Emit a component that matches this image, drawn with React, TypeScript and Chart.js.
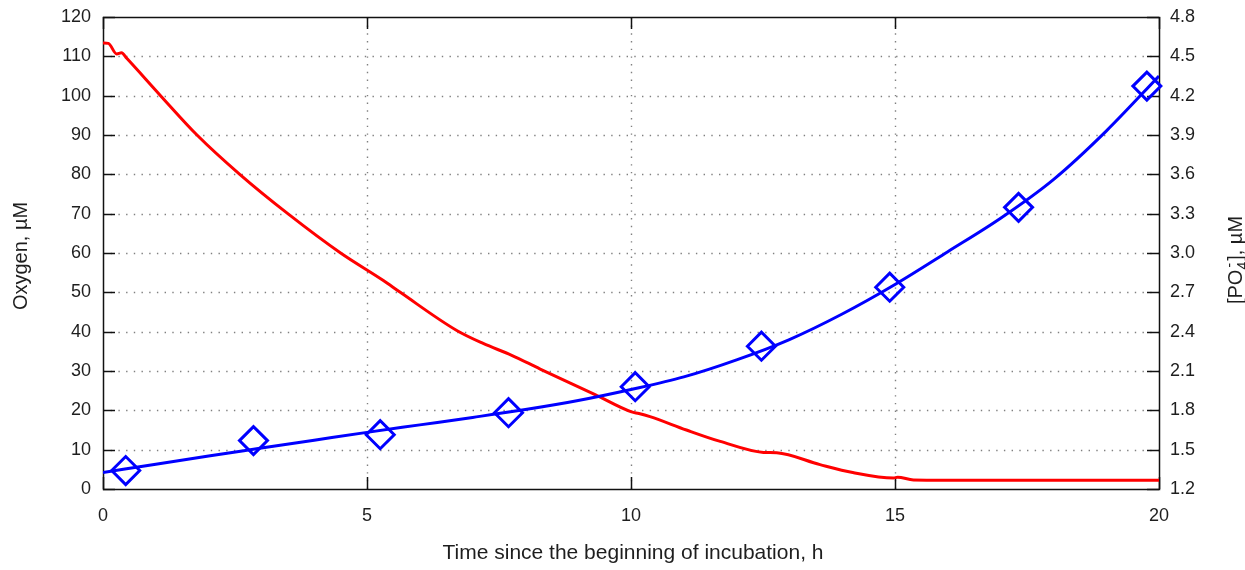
import React, { useEffect, useRef } from 'react';
import { Chart, registerables } from 'chart.js';

Chart.register(...registerables);

// Oxygen (left axis, µM) – measured trace
const oxygenTime = [0, 0.1, 0.26, 0.35, 0.45, 1.09, 1.78, 2.59, 3.5, 4.5, 5.31, 5.63, 6.7, 7.2, 7.74, 8.28, 9.32, 10.01, 10.15, 10.36, 11.05, 11.69, 12.51, 12.76, 13.58, 14.2, 14.97, 15.05, 15.35, 16, 18, 20];
const oxygenValues = [113.4, 113.3, 110.6, 110.9, 109.5, 100, 90, 80, 70, 60, 53, 50, 40.3, 37, 34, 30.5, 24, 19.6, 19.2, 18.4, 15.0, 12.1, 9.3, 9.2, 6.2, 4.2, 2.8, 3.0, 2.3, 2.25, 2.2, 2.2];

// PO4 fitted curve (right axis, µM)
const fitTime = [0, 1, 2, 3, 4, 5, 6, 7, 8, 9, 10, 11, 12, 13, 14, 15, 16, 17, 18, 19, 20];
const fitValues = [1.326, 1.389, 1.452, 1.512, 1.572, 1.632, 1.689, 1.746, 1.806, 1.875, 1.959, 2.055, 2.185, 2.34, 2.535, 2.76, 3.01, 3.265, 3.56, 3.93, 4.35];

// PO4 measured points (right axis, µM)
const po4Time = [0.43, 2.85, 5.25, 7.68, 10.08, 12.47, 14.9, 17.34, 19.77];
const po4Values = [1.341, 1.569, 1.614, 1.782, 1.98, 2.289, 2.739, 3.348, 4.273];

// Tick values
const xTickValues = [0, 5, 10, 15, 20];
const yTickValues = [0, 10, 20, 30, 40, 50, 60, 70, 80, 90, 100, 110, 120];
const y2TickValues = [1.2, 1.5, 1.8, 2.1, 2.4, 2.7, 3.0, 3.3, 3.6, 3.9, 4.2, 4.5, 4.8];

const xTitle = 'Time since the beginning of incubation, h';
const yTitle = 'Oxygen, µM';

const FONT = '"Liberation Sans", Arial, Helvetica, sans-serif';
const TEXT_COLOR = '#1e1e1e';

const framePlugin = {
  id: 'gnuplotFrame',
  beforeDatasetsDraw(chart: any) {
    const { ctx, chartArea, scales } = chart;
    const { left, right, top, bottom } = chartArea;
    ctx.save();
    // dotted grid
    ctx.strokeStyle = '#808080';
    ctx.lineWidth = 1.4;
    ctx.setLineDash([1.4, 6.3]);
    xTickValues.forEach((v) => {
      if (v === xTickValues[0] || v === xTickValues[xTickValues.length - 1]) return;
      const px = Math.round(scales.x.getPixelForValue(v)) + 0.5;
      ctx.beginPath();
      ctx.moveTo(px, bottom);
      ctx.lineTo(px, top);
      ctx.stroke();
    });
    yTickValues.forEach((v) => {
      if (v === yTickValues[0] || v === yTickValues[yTickValues.length - 1]) return;
      const py = Math.round(scales.y.getPixelForValue(v)) + 0.5;
      ctx.beginPath();
      ctx.moveTo(left, py);
      ctx.lineTo(right, py);
      ctx.stroke();
    });
    ctx.setLineDash([]);
    // ticks (inward)
    ctx.strokeStyle = '#111';
    ctx.lineWidth = 1.5;
    const tl = 12;
    xTickValues.forEach((v) => {
      const px = Math.round(scales.x.getPixelForValue(v)) + 0.5;
      ctx.beginPath();
      ctx.moveTo(px, bottom);
      ctx.lineTo(px, bottom - tl);
      ctx.moveTo(px, top);
      ctx.lineTo(px, top + tl);
      ctx.stroke();
    });
    yTickValues.forEach((v) => {
      const py = Math.round(scales.y.getPixelForValue(v)) + 0.5;
      ctx.beginPath();
      ctx.moveTo(left, py);
      ctx.lineTo(left + tl, py);
      ctx.stroke();
    });
    y2TickValues.forEach((v) => {
      const py = Math.round(scales.y2.getPixelForValue(v)) + 0.5;
      ctx.beginPath();
      ctx.moveTo(right, py);
      ctx.lineTo(right - tl, py);
      ctx.stroke();
    });
    // frame
    ctx.strokeRect(Math.round(left) + 0.5, Math.round(top) + 0.5, Math.round(right - left), Math.round(bottom - top));
    ctx.restore();
  },
  afterDraw(chart: any) {
    const { ctx, chartArea } = chart;
    const { left, right, top, bottom } = chartArea;
    const cy = (top + bottom) / 2 + 3;
    ctx.save();
    ctx.fillStyle = TEXT_COLOR;
    // x title
    ctx.font = `21px ${FONT}`;
    ctx.textAlign = 'center';
    ctx.textBaseline = 'middle';
    ctx.fillText(xTitle, (left + right) / 2 + 2, 553);
    // left title
    ctx.font = `20px ${FONT}`;
    ctx.save();
    ctx.translate(21, cy);
    ctx.rotate(-Math.PI / 2);
    ctx.fillText(yTitle, 0, 0);
    ctx.restore();
    // right title: [PO4-], µM with sub/superscript
    ctx.save();
    ctx.translate(1235, cy + 4);
    ctx.rotate(-Math.PI / 2);
    ctx.textAlign = 'left';
    ctx.textBaseline = 'alphabetic';
    const big = `20px ${FONT}`;
    const small = `14px ${FONT}`;
    ctx.font = big;
    const p1 = '[PO';
    const p2 = '], µM';
    const w1 = ctx.measureText(p1).width;
    const w2 = ctx.measureText(p2).width;
    ctx.font = small;
    const ws = Math.max(ctx.measureText('4').width, ctx.measureText('-').width) + 1;
    const total = w1 + ws + w2;
    let x = -total / 2;
    const base = 7;
    ctx.font = big;
    ctx.fillText(p1, x, base);
    x += w1;
    ctx.font = small;
    ctx.fillText('4', x, base + 5);
    ctx.fillText('-', x + 2, base - 8);
    x += ws;
    ctx.font = big;
    ctx.fillText(p2, x, base);
    ctx.restore();
    ctx.restore();
  },
};

export default function App() {
  const ref = useRef<HTMLCanvasElement>(null);
  useEffect(() => {
    const canvas = ref.current;
    if (!canvas) return;
    const tickFont = { family: FONT, size: 18 };
    const chart = new Chart(canvas, {
      type: 'line',
      data: {
        datasets: [
          {
            label: 'PO4 points',
            data: po4Time.map((x, i) => ({ x, y: po4Values[i] })),
            yAxisID: 'y2',
            showLine: false,
            pointStyle: 'rectRot',
            pointRadius: 14,
            pointHoverRadius: 14,
            borderColor: '#0000ff',
            backgroundColor: 'rgba(0,0,0,0)',
            borderWidth: 3,
            clip: false,
          } as any,
          {
            label: 'PO4 fit',
            data: fitTime.map((x, i) => ({ x, y: fitValues[i] })),
            yAxisID: 'y2',
            borderColor: '#0000ff',
            borderWidth: 3,
            pointRadius: 0,
            cubicInterpolationMode: 'monotone',
          },
          {
            label: 'Oxygen',
            data: oxygenTime.map((x, i) => ({ x, y: oxygenValues[i] })),
            yAxisID: 'y',
            borderColor: '#ff0000',
            borderWidth: 3,
            pointRadius: 0,
            cubicInterpolationMode: 'monotone',
          },
        ],
      },
      options: {
        responsive: false,
        animation: false,
        events: [],
        layout: { padding: { top: 16, left: 0, right: 0, bottom: 0 } },
        plugins: { legend: { display: false }, tooltip: { enabled: false } },
        scales: {
          x: {
            type: 'linear',
            min: 0,
            max: 20,
            grid: { display: false, drawTicks: false },
            border: { display: false },
            ticks: { font: tickFont, color: TEXT_COLOR, padding: 16, maxRotation: 0 },
            afterBuildTicks: (s: any) => { s.ticks = xTickValues.map((v) => ({ value: v })); },
            afterFit: (s: any) => { s.height = 81; s.paddingLeft = 0; s.paddingRight = 0; },
          },
          y: {
            type: 'linear',
            position: 'left',
            min: 0,
            max: 120,
            grid: { display: false, drawTicks: false },
            border: { display: false },
            ticks: { font: tickFont, color: TEXT_COLOR, padding: 12 },
            afterBuildTicks: (s: any) => { s.ticks = yTickValues.map((v) => ({ value: v })); },
            afterFit: (s: any) => { s.width = 103; s.paddingTop = 0; s.paddingBottom = 0; },
          },
          y2: {
            type: 'linear',
            position: 'right',
            min: 1.2,
            max: 4.8,
            grid: { display: false, drawTicks: false },
            border: { display: false },
            ticks: {
              font: tickFont,
              color: TEXT_COLOR,
              padding: 11,
              callback: (v: any) => Number(v).toFixed(1),
            },
            afterBuildTicks: (s: any) => { s.ticks = y2TickValues.map((v) => ({ value: v })); },
            afterFit: (s: any) => { s.width = 86; s.paddingTop = 0; s.paddingBottom = 0; },
          },
        },
      },
      plugins: [framePlugin],
    });
    return () => chart.destroy();
  }, []);
  return (
    <div style={{ position: 'fixed', left: 0, top: 0, width: 1245, height: 570, background: '#fff' }}>
      <canvas ref={ref} width={1245} height={570} style={{ display: 'block', width: 1245, height: 570 }} />
    </div>
  );
}
